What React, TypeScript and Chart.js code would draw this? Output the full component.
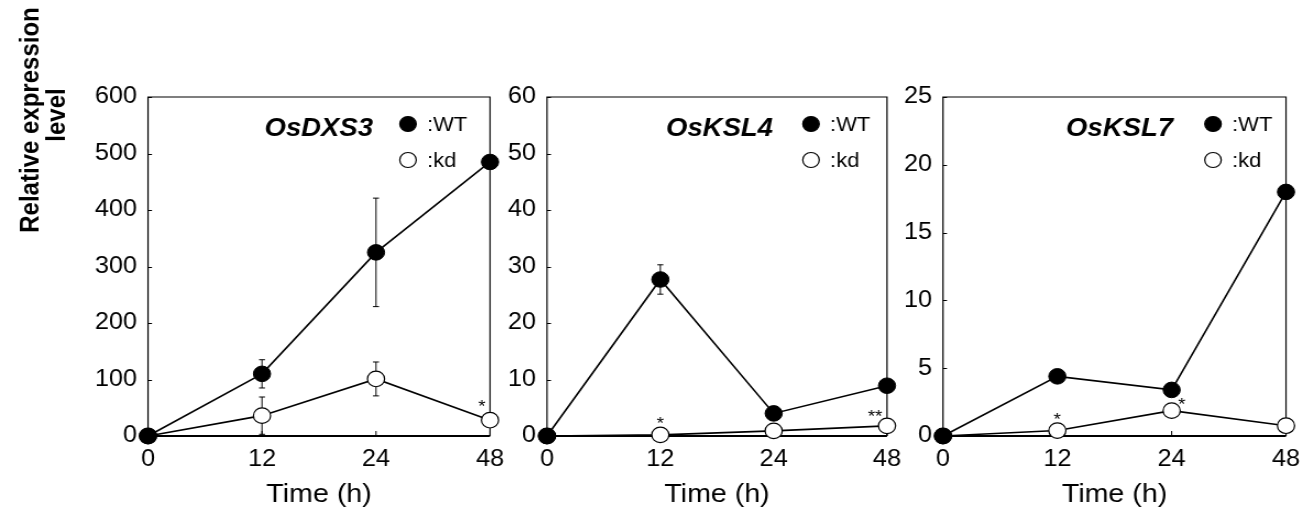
import React, { useEffect, useRef } from 'react';
import { Chart, registerables } from 'chart.js';

Chart.register(...registerables);

// horizontal stretch of the original figure
const K = 1.1;
const FONT = "'Liberation Sans', Arial, Helvetica, sans-serif";

// ---------- data ----------
const timeLabels = ['0', '12', '24', '48'];
const seriesNames = ['WT', 'kd'];
const yAxisTitle = ['Relative expression', 'level'];
const xAxisTitle = 'Time (h)';
const geneNames = ['OsDXS3', 'OsKSL4', 'OsKSL7'];

const dxs3WT = [0, 110, 325, 485];
const dxs3WTErr = [0, 25, 96, 0];
const dxs3KD = [0, 36, 101, 28];
const dxs3KDErr = [0, 33, 30, 0];
const dxs3Stars = ['', '', '', '*'];

const ksl4WT = [0, 27.7, 4.0, 8.9];
const ksl4WTErr = [0, 2.6, 0.4, 0.3];
const ksl4KD = [0, 0.2, 0.9, 1.8];
const ksl4KDErr = [0, 0, 0, 0];
const ksl4Stars = ['', '*', '', '**'];

const ksl7WT = [0, 4.4, 3.4, 18.0];
const ksl7WTErr = [0, 0.3, 0.3, 0];
const ksl7KD = [0, 0.4, 1.87, 0.76];
const ksl7KDErr = [0, 0, 0, 0];
const ksl7Stars = ['', '*', '*', ''];

const yMax = [600, 60, 25];
const yStep = [100, 10, 5];

// ---------- layout (not data) ----------
const panels = [
  { gene: geneNames[0], wt: dxs3WT, wtErr: dxs3WTErr, kd: dxs3KD, kdErr: dxs3KDErr, stars: dxs3Stars, max: yMax[0], step: yStep[0],
    left: 0, w: 475, yWidth: 148 / K, padRight: 475 - 490 / K, showYTitle: true, legendDx: 82, titleDx: 117,
    starOffsets: [[0, -18], [0, -18], [0, -18], [-8, -18]] },
  { gene: geneNames[1], wt: ksl4WT, wtErr: ksl4WTErr, kd: ksl4KD, kdErr: ksl4KDErr, stars: ksl4Stars, max: yMax[1], step: yStep[1],
    left: 490, w: 390, yWidth: (547 - 490) / K, padRight: 390 - (887 - 490) / K, showYTitle: false, legendDx: 76, titleDx: 114,
    starOffsets: [[0, -16], [0, -16], [0, -16], [-12, -14]] },
  { gene: geneNames[2], wt: ksl7WT, wtErr: ksl7WTErr, kd: ksl7KD, kdErr: ksl7KDErr, stars: ksl7Stars, max: yMax[2], step: yStep[2],
    left: 885, w: 390, yWidth: (943 - 885) / K, padRight: 390 - (1286 - 885) / K, showYTitle: false, legendDx: 73, titleDx: 113,
    starOffsets: [[0, -16], [0, -16], [10, -11], [0, -16]] },
];

function makePlugin(p: any) {
  return {
    id: 'panelDecor',
    beforeDatasetsDraw(chart: any) {
      const { ctx, chartArea: a, scales } = chart;
      ctx.save();
      ctx.strokeStyle = '#000';
      ctx.lineWidth = 1.2;
      ctx.beginPath();
      ctx.moveTo(a.left, a.bottom);
      ctx.lineTo(a.left, a.top);
      ctx.lineTo(a.right, a.top);
      ctx.lineTo(a.right, a.bottom);
      ctx.stroke();
      ctx.lineWidth = 2.2;
      ctx.beginPath();
      ctx.moveTo(a.left, a.bottom);
      ctx.lineTo(a.right, a.bottom);
      ctx.stroke();
      // inward ticks
      ctx.lineWidth = 1;
      scales.y.ticks.forEach((t: any) => {
        const y = Math.round(scales.y.getPixelForValue(t.value)) + 0.5;
        ctx.beginPath();
        ctx.moveTo(a.left, y);
        ctx.lineTo(a.left + 4 / K, y);
        ctx.stroke();
      });
      scales.x.ticks.forEach((_t: any, i: number) => {
        const x = scales.x.getPixelForTick(i);
        ctx.beginPath();
        ctx.moveTo(x, a.bottom);
        ctx.lineTo(x, a.bottom - 5);
        ctx.stroke();
      });
      // error bars
      chart.data.datasets.forEach((ds: any, di: number) => {
        const meta = chart.getDatasetMeta(di);
        const errs = ds.errors || [];
        meta.data.forEach((pt: any, i: number) => {
          const e = errs[i];
          if (!e) return;
          const v = ds.data[i];
          const y1 = scales.y.getPixelForValue(v + e);
          const y2 = scales.y.getPixelForValue(Math.max(0, v - e));
          const cw = 3 / K;
          ctx.beginPath();
          ctx.moveTo(pt.x, y1);
          ctx.lineTo(pt.x, y2);
          ctx.moveTo(pt.x - cw, y1);
          ctx.lineTo(pt.x + cw, y1);
          ctx.moveTo(pt.x - cw, y2);
          ctx.lineTo(pt.x + cw, y2);
          ctx.stroke();
        });
      });
      ctx.restore();
    },
    afterDatasetsDraw(chart: any) {
      const { ctx, chartArea: a } = chart;
      ctx.save();
      ctx.fillStyle = '#000';
      // significance stars
      ctx.font = `17px ${FONT}`;
      ctx.textAlign = 'center';
      ctx.textBaseline = 'alphabetic';
      chart.data.datasets.forEach((ds: any, di: number) => {
        const meta = chart.getDatasetMeta(di);
        (ds.stars || []).forEach((s: string, i: number) => {
          if (!s) return;
          const pt = meta.data[i];
          const off = p.starOffsets[i];
          ctx.fillText(s, pt.x + off[0] / K, pt.y + off[1] + 10);
        });
      });
      // gene name
      ctx.font = `italic bold 25px ${FONT}`;
      ctx.textAlign = 'right';
      ctx.textBaseline = 'middle';
      ctx.fillText(p.gene, a.right - p.titleDx / K, 129);
      // legend
      const rows = [124, 160];
      chart.data.datasets.forEach((ds: any, di: number) => {
        const cx = a.right - p.legendDx / K;
        const cy = rows[di];
        ctx.beginPath();
        ctx.ellipse(cx, cy, 7.5, 7.5, 0, 0, Math.PI * 2);
        ctx.fillStyle = ds.pointBackgroundColor;
        ctx.fill();
        ctx.lineWidth = 1.2;
        ctx.strokeStyle = '#000';
        ctx.stroke();
        ctx.fillStyle = '#000';
        ctx.font = `20px ${FONT}`;
        ctx.textAlign = 'left';
        ctx.textBaseline = 'middle';
        ctx.fillText(':' + ds.label, a.right - (p.legendDx - 19) / K, cy + 1);
      });
      // y axis title
      if (p.showYTitle) {
        ctx.font = `bold 24px ${FONT}`;
        ctx.textAlign = 'center';
        ctx.textBaseline = 'alphabetic';
        const xs = [38 / K, 65 / K];
        const ys = [120, 115];
        yAxisTitle.forEach((line, li) => {
          ctx.save();
          ctx.translate(xs[li], ys[li]);
          ctx.rotate(-Math.PI / 2);
          ctx.fillText(line, 0, 0);
          ctx.restore();
        });
      }
      ctx.restore();
    },
  };
}

function makeConfig(p: any): any {
  const tickFont = { family: FONT, size: 23 };
  return {
    type: 'line',
    data: {
      labels: timeLabels,
      datasets: [
        {
          label: seriesNames[0], data: p.wt, errors: p.wtErr,
          borderColor: '#000', borderWidth: 1.6, pointRadius: 7.8, pointHoverRadius: 7.8,
          pointBackgroundColor: '#000', pointBorderColor: '#000', pointBorderWidth: 1,
          clip: false, tension: 0,
        },
        {
          label: seriesNames[1], data: p.kd, errors: p.kdErr, stars: p.stars,
          borderColor: '#000', borderWidth: 1.6, pointRadius: 7.8, pointHoverRadius: 7.8,
          pointBackgroundColor: '#fff', pointBorderColor: '#000', pointBorderWidth: 1.2,
          clip: false, tension: 0,
        },
      ],
    },
    options: {
      animation: false,
      responsive: false,
      events: [],
      layout: { padding: { top: 97, right: p.padRight, left: 0, bottom: 0 } },
      plugins: { legend: { display: false }, tooltip: { enabled: false } },
      scales: {
        x: {
          type: 'category',
          offset: false,
          grid: { display: false, drawTicks: false },
          border: { display: false },
          ticks: { color: '#000', font: tickFont, padding: 10, maxRotation: 0, autoSkip: false },
          title: { display: true, text: xAxisTitle, color: '#000', font: { family: FONT, size: 26 }, padding: { top: 0, bottom: 3 } },
          afterFit: (s: any) => { s.height = 77; s.paddingLeft = 0; s.paddingRight = 0; },
        },
        y: {
          min: 0,
          max: p.max,
          grid: { display: false, drawTicks: false },
          border: { display: false },
          ticks: { color: '#000', font: tickFont, padding: 11 / K, stepSize: p.step },
          afterFit: (s: any) => { s.width = p.yWidth; s.paddingTop = 0; s.paddingBottom = 0; },
        },
      },
    },
    plugins: [makePlugin(p)],
  };
}

function Panel({ p }: { p: any }) {
  const ref = useRef<HTMLCanvasElement | null>(null);
  useEffect(() => {
    const chart = new Chart(ref.current as HTMLCanvasElement, makeConfig(p));
    return () => chart.destroy();
  }, []);
  return (
    <canvas
      ref={ref}
      width={p.w}
      height={513}
      style={{ position: 'absolute', left: p.left, top: 0, transform: `scaleX(${K})`, transformOrigin: '0 0' }}
    />
  );
}

export default function App() {
  return (
    <div style={{ position: 'absolute', left: 0, top: 0, width: 1315, height: 513, background: '#fff', overflow: 'hidden' }}>
      {panels.map((p, i) => (
        <Panel key={i} p={p} />
      ))}
    </div>
  );
}
